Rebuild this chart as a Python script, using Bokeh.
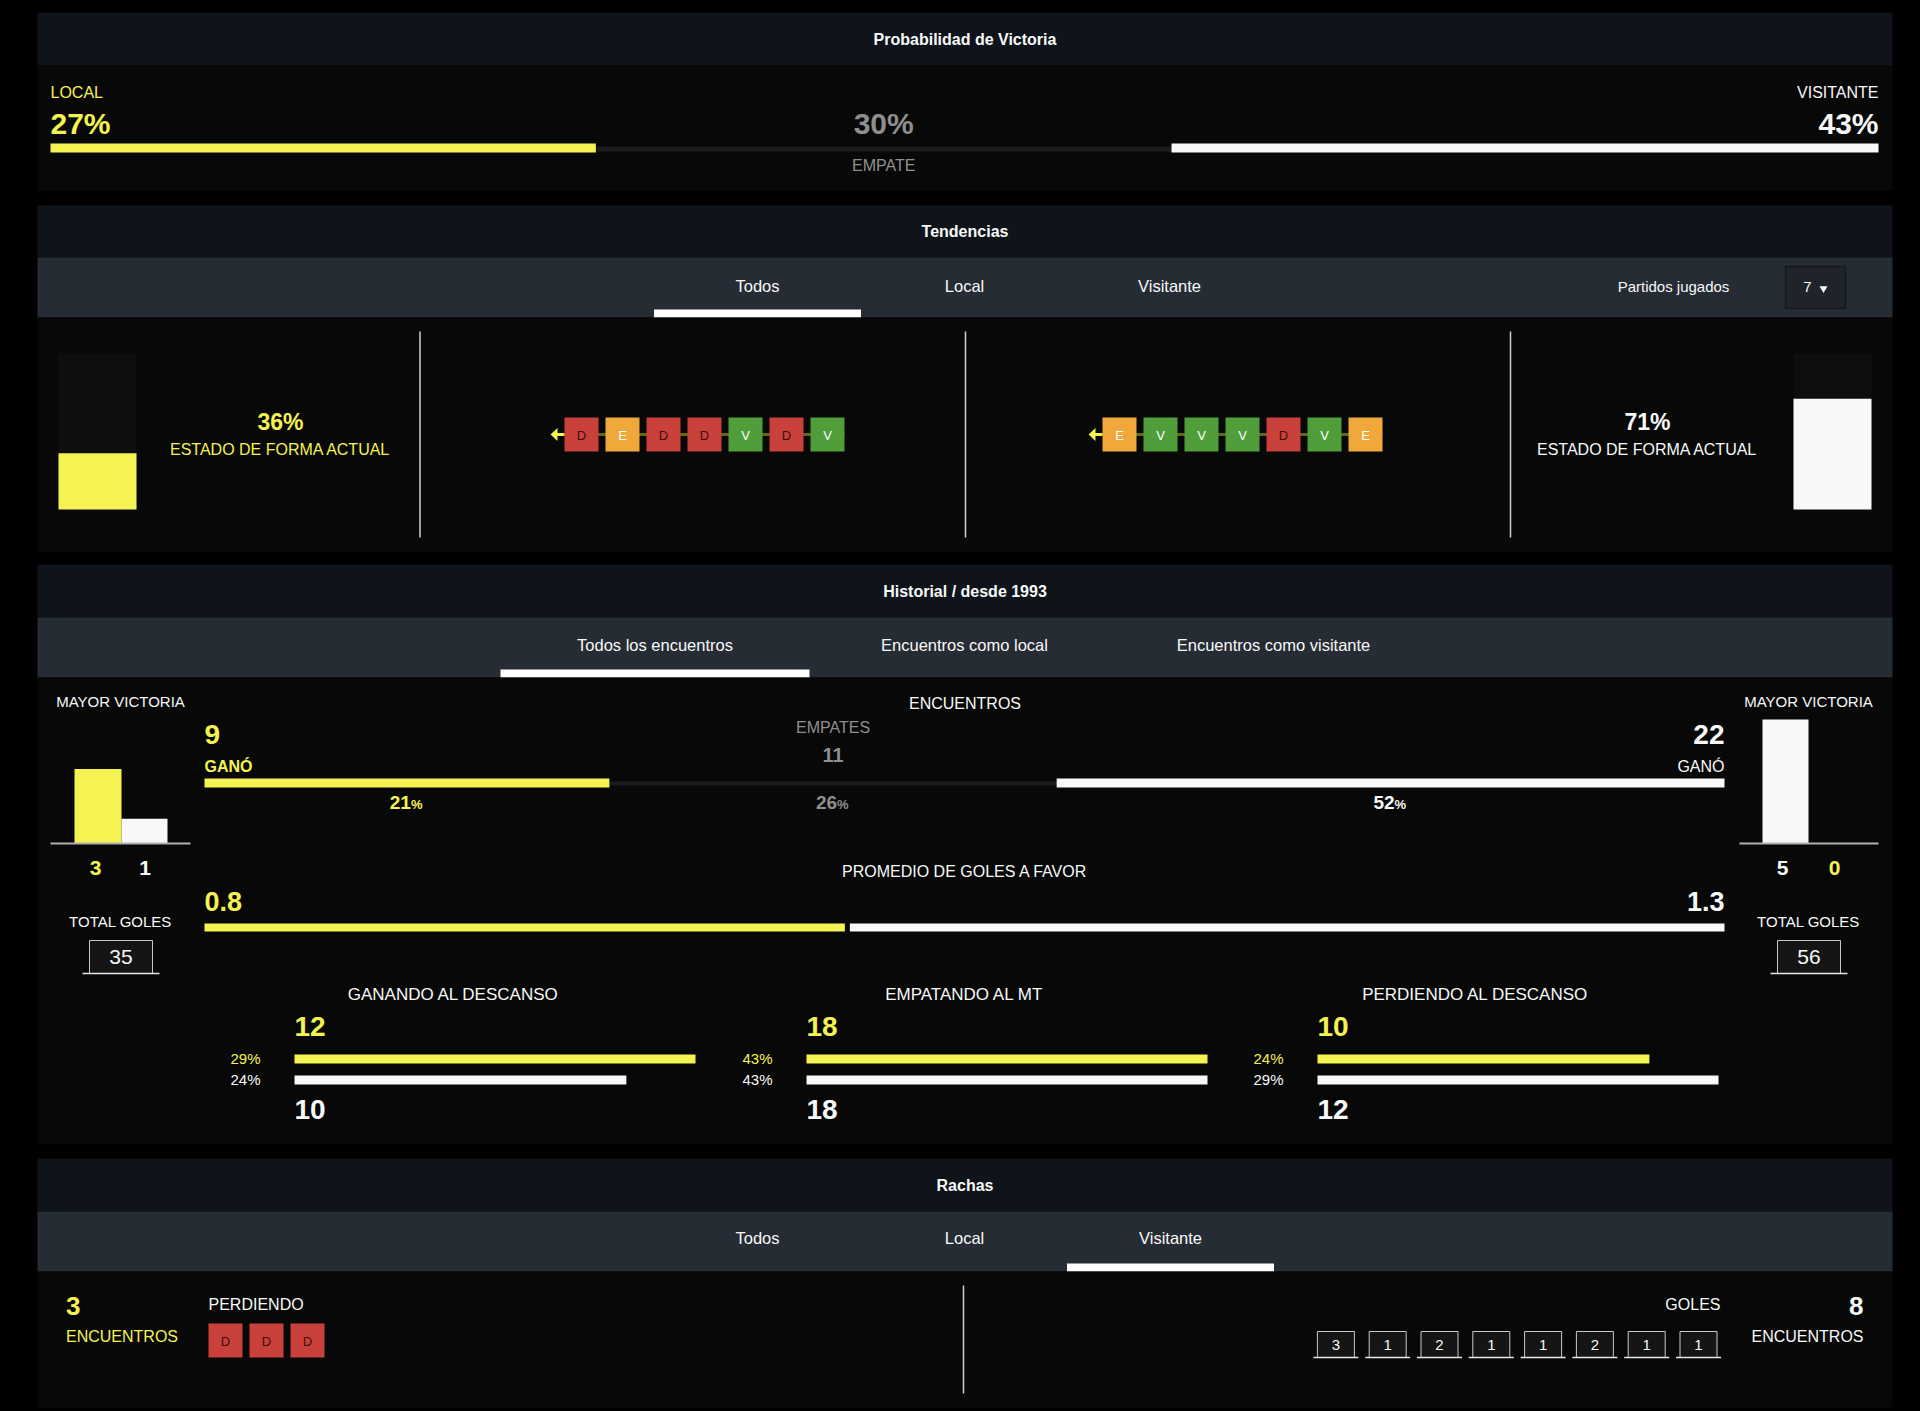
from bokeh.plotting import figure
from bokeh.models import Range1d
from bokeh.embed import file_html
from bokeh.resources import INLINE
from bokeh.core.properties import value

# ---------------- data ----------------
prob_labels = ["LOCAL", "EMPATE", "VISITANTE"]
prob_values = [27, 30, 43]

tendencias_tabs = ["Todos", "Local", "Visitante"]
partidos_label = "Partidos jugados"
partidos_jugados = 7
form_pct = [36, 71]
form_label = "ESTADO DE FORMA ACTUAL"
form_home = ["D", "E", "D", "D", "V", "D", "V"]
form_away = ["E", "V", "V", "V", "D", "V", "E"]

historial_tabs = ["Todos los encuentros", "Encuentros como local", "Encuentros como visitante"]
h2h_counts = [9, 11, 22]
h2h_pcts = [21, 26, 52]
mayor_victoria_home = [3, 1]
mayor_victoria_away = [5, 0]
total_goles = [35, 56]
avg_goals = [0.8, 1.3]
ht_titles = ["GANANDO AL DESCANSO", "EMPATANDO AL MT", "PERDIENDO AL DESCANSO"]
ht_home_counts = [12, 18, 10]
ht_away_counts = [10, 18, 12]
ht_home_pcts = [29, 43, 24]
ht_away_pcts = [24, 43, 29]

rachas_tabs = ["Todos", "Local", "Visitante"]
racha_home_count = 3
racha_home_label = "PERDIENDO"
racha_home_results = ["D", "D", "D"]
racha_away_label = "GOLES"
racha_away_goals = [3, 1, 2, 1, 1, 2, 1, 1]

# ---------------- style ----------------
FONT = "Liberation Sans, Arial, Helvetica, sans-serif"
BG = "#000000"
HEAD = "#0f141a"
TAB = "#262c33"
BODY = "#080808"
YEL = "#f5f351"
WHT = "#f7f9f8"
GRAY = "#8f8f8f"
TRACK = "#1b1b1b"
RES_COL = {"V": "#4f9e3a", "E": "#f0a83a", "D": "#c9413a"}
RES_TXT = {"V": "#ffffff", "E": "#ffffff", "D": "#3b0e0c"}

p = figure(width=1920, height=1411, x_range=Range1d(0, 1920), y_range=Range1d(1411, 0),
           output_backend="svg", toolbar_location=None, x_axis_type=None, y_axis_type=None,
           min_border=0, background_fill_color=BG, border_fill_color=BG, outline_line_color=None)
p.grid.visible = False

PX0, PX1 = 37, 1892
PCX = (PX0 + PX1) / 2
TY = -1  # small vertical text correction


def rect(l, r, t, b, color, line=None, lw=1):
    p.quad(left=[l], right=[r], top=[t], bottom=[b], fill_color=color,
           line_color=line, line_width=lw)


def txt(x, y, s, size, color, bold=False, align="center", baseline="middle"):
    p.text(x=[x], y=[y + TY], text=[s], text_font=value(FONT), text_font_size=f"{size}px",
           text_font_style="bold" if bold else "normal", text_color=color,
           text_align=align, text_baseline=baseline)


def display_shares(vals, k=0.27):
    tot = sum(vals)
    w = [v + k * tot for v in vals]
    s = sum(w)
    return [x / s for x in w]


def header(top, bot, title):
    rect(PX0, PX1, top, bot, HEAD)
    txt(PCX, (top + bot) / 2 + 1, title, 16, WHT, bold=True)


def tabbar(top, bot, labels, xs, ty, active, uw):
    rect(PX0, PX1, top, bot, TAB)
    for lab, x in zip(labels, xs):
        txt(x, ty, lab, 16.5, WHT)
    ax = xs[active]
    rect(ax - uw / 2, ax + uw / 2, bot - 8, bot, "#ffffff")


def score_box(cx, top, bot, hw, ext, label, size):
    rect(cx - hw, cx + hw, top, bot, "#151515")
    p.multi_line(xs=[[cx - hw, cx - hw, cx + hw, cx + hw]], ys=[[bot, top, top, bot]],
                 line_color="#c8c8c8", line_width=1)
    p.segment(x0=[cx - hw - ext], y0=[bot], x1=[cx + hw + ext], y1=[bot],
              line_color="#e6e6e6", line_width=1.5)
    txt(cx, (top + bot) / 2 + 1, label, size, WHT)


def squares(x_start, results, cy, step=41, size=34):
    n = len(results)
    lefts = [x_start + step * i for i in range(n)]
    p.quad(left=lefts, right=[l + size for l in lefts], top=[cy - size / 2] * n,
           bottom=[cy + size / 2] * n, fill_color=[RES_COL[r] for r in results], line_color=None)
    p.text(x=[l + size / 2 for l in lefts], y=[cy + 1] * n, text=results, text_font=value(FONT),
           text_font_size="13px", text_color=[RES_TXT[r] for r in results],
           text_align="center", text_baseline="middle")


def form_strip(x_start, results, cy):
    n = len(results)
    end = x_start + 41 * (n - 1) + 34
    p.segment(x0=[x_start - 7], y0=[cy], x1=[end], y1=[cy], line_color="#66651f", line_width=3)
    p.segment(x0=[x_start - 8], y0=[cy], x1=[x_start], y1=[cy], line_color=YEL, line_width=3)
    p.patch(x=[x_start - 14, x_start - 7, x_start - 7], y=[cy, cy - 6.5, cy + 6.5],
            fill_color=YEL, line_color=None)
    squares(x_start, results, cy)


def pct_label(cx, y, v, color):
    txt(cx + 4, y, str(v), 19, color, bold=True, align="right")
    txt(cx + 4, y + 2, "%", 13, color, bold=True, align="left")


# ================= Section 1: Probabilidad =================
header(12, 65, "Probabilidad de Victoria")
rect(PX0, PX1, 65, 190, BODY)
bx0, bx1 = 50, 1878
W = bx1 - bx0
sh = display_shares(prob_values)
yr = bx0 + W * sh[0]
wl = bx1 - W * sh[2]
rect(bx0, bx1, 146, 151, TRACK)
rect(bx0, yr, 143, 152, YEL)
rect(wl, bx1, 143, 152, WHT)
txt(bx0, 93, prob_labels[0], 16, YEL, align="left")
txt(bx0, 124, f"{prob_values[0]}%", 30, YEL, bold=True, align="left")
txt((yr + wl) / 2, 124, f"{prob_values[1]}%", 30, GRAY, bold=True)
txt((yr + wl) / 2, 166, prob_labels[1], 16, GRAY)
txt(bx1, 93, prob_labels[2], 16, WHT, align="right")
txt(bx1, 124, f"{prob_values[2]}%", 30, WHT, bold=True, align="right")

# ================= Section 2: Tendencias =================
header(205, 257, "Tendencias")
tabbar(257, 317, tendencias_tabs, [757, 964, 1169], 286, 0, 207)
txt(1673, 287, partidos_label, 15, WHT)
rect(1785, 1845, 266, 308, "#1f242a", line="#15191d", lw=1.5)
txt(1807, 287, str(partidos_jugados), 15, WHT)
p.scatter(x=[1823], y=[288], marker="inverted_triangle", size=8, fill_color=WHT, line_color=None)
rect(PX0, PX1, 317, 552, BODY)

# form bars
FB_TOP, FB_BOT = 353, 509
FB_H = FB_BOT - FB_TOP
rect(58, 136, FB_TOP, FB_BOT, "#0e0e0e")
rect(58, 136, FB_BOT - FB_H * form_pct[0] / 100, FB_BOT, YEL)
rect(1793, 1871, FB_TOP, FB_BOT, "#0e0e0e")
rect(1793, 1871, FB_BOT - FB_H * form_pct[1] / 100, FB_BOT, WHT)
txt(280, 422, f"{form_pct[0]}%", 23, YEL, bold=True)
txt(280, 450, form_label, 16, YEL)
txt(1647, 422, f"{form_pct[1]}%", 23, WHT, bold=True)
txt(1647, 450, form_label, 16, WHT)
p.segment(x0=[419.5, 965, 1510], y0=[331] * 3, x1=[419.5, 965, 1510], y1=[537] * 3,
          line_color="#d0d0d0", line_width=1.5)
form_strip(564, form_home, 434)
form_strip(1102, form_away, 434)

# ================= Section 3: Historial =================
header(564, 617, "Historial / desde 1993")
tabbar(617, 677, historial_tabs, [654.5, 964, 1273], 645, 0, 309)
rect(PX0, PX1, 677, 1144, BODY)

# mayor victoria mini bars
GSC = 24.8
BASE = 843
txt(120, 702, "MAYOR VICTORIA", 15, WHT)
rect(74, 121, BASE - GSC * mayor_victoria_home[0], BASE, YEL)
rect(121, 167, BASE - GSC * mayor_victoria_home[1], BASE, WHT)
p.segment(x0=[50], y0=[BASE], x1=[190], y1=[BASE], line_color="#b0b0b0", line_width=2)
txt(95, 868, str(mayor_victoria_home[0]), 21, YEL, bold=True)
txt(144.5, 868, str(mayor_victoria_home[1]), 21, WHT, bold=True)

txt(1808, 702, "MAYOR VICTORIA", 15, WHT)
rect(1762, 1808, BASE - GSC * mayor_victoria_away[0], BASE, WHT)
if mayor_victoria_away[1] > 0:
    rect(1808, 1855, BASE - GSC * mayor_victoria_away[1], BASE, YEL)
p.segment(x0=[1739], y0=[BASE], x1=[1878], y1=[BASE], line_color="#b0b0b0", line_width=2)
txt(1782, 868, str(mayor_victoria_away[0]), 21, WHT, bold=True)
txt(1834, 868, str(mayor_victoria_away[1]), 21, YEL, bold=True)

# total goles
txt(120, 922, "TOTAL GOLES", 15, WHT)
score_box(120.5, 940, 973, 31.5, 7, str(total_goles[0]), 21)
txt(1808, 922, "TOTAL GOLES", 15, WHT)
score_box(1808.5, 940, 973, 31.5, 7, str(total_goles[1]), 21)

# encuentros bar
hx0, hx1 = 204, 1724
HW = hx1 - hx0
sh = display_shares(h2h_pcts)
hyr = hx0 + HW * sh[0]
hwl = hx1 - HW * sh[2]
txt(PCX, 704, "ENCUENTROS", 16, WHT)
txt(hx0, 735, str(h2h_counts[0]), 28, YEL, bold=True, align="left")
txt(hx0, 767, "GANÓ", 16, YEL, bold=True, align="left")
txt((hyr + hwl) / 2, 728, "EMPATES", 16, GRAY)
txt((hyr + hwl) / 2, 755, str(h2h_counts[1]), 20, GRAY, bold=True)
txt(hx1, 735, str(h2h_counts[2]), 28, WHT, bold=True, align="right")
txt(hx1, 767, "GANÓ", 16, WHT, align="right")
rect(hx0, hx1, 781, 785, TRACK)
rect(hx0, hyr, 778, 787, YEL)
rect(hwl, hx1, 778, 787, WHT)
pct_label((hx0 + hyr) / 2, 803, h2h_pcts[0], YEL)
pct_label((hyr + hwl) / 2, 803, h2h_pcts[1], GRAY)
pct_label((hwl + hx1) / 2, 803, h2h_pcts[2], WHT)

# promedio goles
GAP = 5
sh = display_shares(avg_goals)
gyr = hx0 + (HW - GAP) * sh[0]
txt(PCX, 872, "PROMEDIO DE GOLES A FAVOR", 16, WHT)
txt(hx0, 902, f"{avg_goals[0]}", 27, YEL, bold=True, align="left")
txt(hx1, 902, f"{avg_goals[1]}", 27, WHT, bold=True, align="right")
rect(hx0, gyr, 923, 931, YEL)
rect(gyr + GAP, hx1, 923, 931, WHT)

# half-time columns
col_start = [294, 806, 1317]
col_title_x = [453, 964, 1475]
BAR_MAX = 401
for i in range(3):
    x0 = col_start[i]
    m = max(ht_home_pcts[i], ht_away_pcts[i])
    txt(col_title_x[i], 995, ht_titles[i], 17, WHT)
    txt(x0, 1027, str(ht_home_counts[i]), 28, YEL, bold=True, align="left")
    rect(x0, x0 + BAR_MAX * ht_home_pcts[i] / m, 1054, 1063, YEL)
    rect(x0, x0 + BAR_MAX * ht_away_pcts[i] / m, 1075, 1084, WHT)
    txt(x0 - 34, 1059, f"{ht_home_pcts[i]}%", 15, YEL, align="right")
    txt(x0 - 34, 1080, f"{ht_away_pcts[i]}%", 15, WHT, align="right")
    txt(x0, 1110, str(ht_away_counts[i]), 28, WHT, bold=True, align="left")

# ================= Section 4: Rachas =================
header(1158, 1211, "Rachas")
tabbar(1211, 1271, rachas_tabs, [757, 964, 1170], 1238, 2, 207)
rect(PX0, PX1, 1271, 1407, BODY)
txt(65.5, 1306, str(racha_home_count), 26, YEL, bold=True, align="left")
txt(65.5, 1337, "ENCUENTROS", 16, YEL, align="left")
txt(208, 1305, racha_home_label, 16, WHT, align="left")
squares(208, racha_home_results, 1340)
p.segment(x0=[963], y0=[1285], x1=[963], y1=[1393], line_color="#d0d0d0", line_width=1.5)
txt(1720, 1305, racha_away_label, 16, WHT, align="right")
txt(1863, 1306, str(len(racha_away_goals)), 26, WHT, bold=True, align="right")
txt(1863, 1337, "ENCUENTROS", 16, WHT, align="right")
for i, g in enumerate(racha_away_goals):
    score_box(1335.4 + 51.8 * i, 1331, 1357, 18.5, 4, str(g), 15)

html = file_html(p, INLINE)
html = html.replace("<head>", "<head><style>html,body{background:#000;margin:0;padding:0;overflow:hidden;}</style>", 1)
open("out.html", "w", encoding="utf-8").write(html)
